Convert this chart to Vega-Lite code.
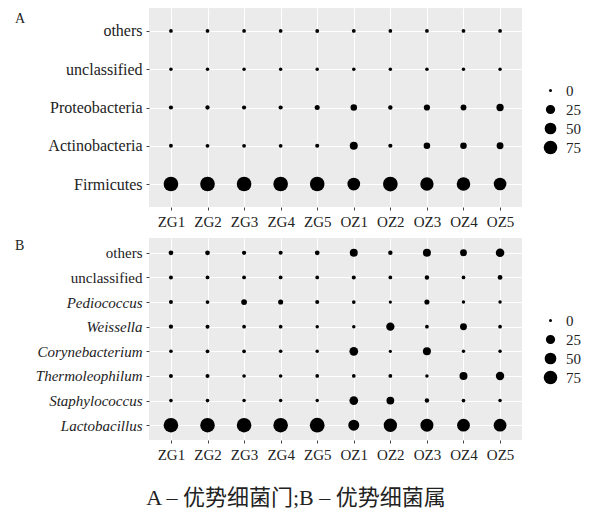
{
  "$schema": "https://vega.github.io/schema/vega-lite/v6.json",
  "padding": {"left": 15, "top": 8, "right": 5, "bottom": 5},
  "background": "white",
  "title": {"text": "A – 优势细菌门;B – 优势细菌属", "orient": "bottom", "anchor": "middle", "font": "Liberation Serif, Noto Sans CJK SC", "fontSize": 22, "fontWeight": "normal", "color": "#222222", "offset": 26, "dx": -2},
  "spacing": 9,
  "resolve": {"scale": {"size": "independent"}, "legend": {"size": "independent"}},
  "vconcat": [
    {
      "width": 373,
      "height": 199,
      "title": {"text": "A", "anchor": "start", "frame": "group", "dx": -134, "dy": 18, "offset": 0, "fontSize": 14, "font": "Liberation Serif", "fontWeight": "normal", "color": "#222222"},
      "data": {"values": [
        {"sample": "ZG1", "taxon": "Firmicutes", "value": 93},
        {"sample": "ZG2", "taxon": "Firmicutes", "value": 93},
        {"sample": "ZG3", "taxon": "Firmicutes", "value": 93},
        {"sample": "ZG4", "taxon": "Firmicutes", "value": 93},
        {"sample": "ZG5", "taxon": "Firmicutes", "value": 93},
        {"sample": "OZ1", "taxon": "Firmicutes", "value": 63},
        {"sample": "OZ2", "taxon": "Firmicutes", "value": 94},
        {"sample": "OZ3", "taxon": "Firmicutes", "value": 72},
        {"sample": "OZ4", "taxon": "Firmicutes", "value": 76},
        {"sample": "OZ5", "taxon": "Firmicutes", "value": 62},
        {"sample": "ZG1", "taxon": "Actinobacteria", "value": 0.8},
        {"sample": "ZG2", "taxon": "Actinobacteria", "value": 0.7},
        {"sample": "ZG3", "taxon": "Actinobacteria", "value": 0.7},
        {"sample": "ZG4", "taxon": "Actinobacteria", "value": 0.7},
        {"sample": "ZG5", "taxon": "Actinobacteria", "value": 1.2},
        {"sample": "OZ1", "taxon": "Actinobacteria", "value": 16},
        {"sample": "OZ2", "taxon": "Actinobacteria", "value": 1.3},
        {"sample": "OZ3", "taxon": "Actinobacteria", "value": 8.5},
        {"sample": "OZ4", "taxon": "Actinobacteria", "value": 8.5},
        {"sample": "OZ5", "taxon": "Actinobacteria", "value": 10},
        {"sample": "ZG1", "taxon": "Proteobacteria", "value": 1.4},
        {"sample": "ZG2", "taxon": "Proteobacteria", "value": 1.6},
        {"sample": "ZG3", "taxon": "Proteobacteria", "value": 1.4},
        {"sample": "ZG4", "taxon": "Proteobacteria", "value": 1.4},
        {"sample": "ZG5", "taxon": "Proteobacteria", "value": 3.2},
        {"sample": "OZ1", "taxon": "Proteobacteria", "value": 8.5},
        {"sample": "OZ2", "taxon": "Proteobacteria", "value": 1.8},
        {"sample": "OZ3", "taxon": "Proteobacteria", "value": 7},
        {"sample": "OZ4", "taxon": "Proteobacteria", "value": 5.8},
        {"sample": "OZ5", "taxon": "Proteobacteria", "value": 12},
        {"sample": "ZG1", "taxon": "unclassified", "value": 0.3},
        {"sample": "ZG2", "taxon": "unclassified", "value": 0.3},
        {"sample": "ZG3", "taxon": "unclassified", "value": 0.3},
        {"sample": "ZG4", "taxon": "unclassified", "value": 0.3},
        {"sample": "ZG5", "taxon": "unclassified", "value": 0.3},
        {"sample": "OZ1", "taxon": "unclassified", "value": 0.4},
        {"sample": "OZ2", "taxon": "unclassified", "value": 0.3},
        {"sample": "OZ3", "taxon": "unclassified", "value": 0.4},
        {"sample": "OZ4", "taxon": "unclassified", "value": 0.3},
        {"sample": "OZ5", "taxon": "unclassified", "value": 0.3},
        {"sample": "ZG1", "taxon": "others", "value": 0.6},
        {"sample": "ZG2", "taxon": "others", "value": 0.6},
        {"sample": "ZG3", "taxon": "others", "value": 0.6},
        {"sample": "ZG4", "taxon": "others", "value": 0.6},
        {"sample": "ZG5", "taxon": "others", "value": 0.8},
        {"sample": "OZ1", "taxon": "others", "value": 0.7},
        {"sample": "OZ2", "taxon": "others", "value": 0.6},
        {"sample": "OZ3", "taxon": "others", "value": 0.7},
        {"sample": "OZ4", "taxon": "others", "value": 0.7},
        {"sample": "OZ5", "taxon": "others", "value": 0.7}
      ]},
      "mark": {"type": "circle", "color": "black", "opacity": 1},
      "encoding": {
        "x": {"field": "sample", "type": "nominal", "scale": {"type": "point", "padding": 0.6, "domain": ["ZG1", "ZG2", "ZG3", "ZG4", "ZG5", "OZ1", "OZ2", "OZ3", "OZ4", "OZ5"]}, "axis": {"labelAngle": 0, "title": null}},
        "y": {"field": "taxon", "type": "nominal", "scale": {"type": "point", "padding": 0.6, "domain": ["others", "unclassified", "Proteobacteria", "Actinobacteria", "Firmicutes"]}, "axis": {"title": null, "labelFontSize": 16}},
        "size": {"field": "value", "type": "quantitative", "scale": {"type": "pow", "exponent": 0.75, "domain": [0, 100], "range": [9, 225]}, "legend": {"values": [0, 25, 50, 75], "title": null}}
      }
    },
    {
      "width": 373,
      "height": 202,
      "title": {"text": "B", "anchor": "start", "frame": "group", "dx": -134, "dy": 15, "offset": 0, "fontSize": 14, "font": "Liberation Serif", "fontWeight": "normal", "color": "#222222"},
      "data": {"values": [
        {"sample": "ZG1", "taxon": "Lactobacillus", "value": 92},
        {"sample": "ZG2", "taxon": "Lactobacillus", "value": 92},
        {"sample": "ZG3", "taxon": "Lactobacillus", "value": 92},
        {"sample": "ZG4", "taxon": "Lactobacillus", "value": 92},
        {"sample": "ZG5", "taxon": "Lactobacillus", "value": 95},
        {"sample": "OZ1", "taxon": "Lactobacillus", "value": 42},
        {"sample": "OZ2", "taxon": "Lactobacillus", "value": 72},
        {"sample": "OZ3", "taxon": "Lactobacillus", "value": 67},
        {"sample": "OZ4", "taxon": "Lactobacillus", "value": 64},
        {"sample": "OZ5", "taxon": "Lactobacillus", "value": 64},
        {"sample": "ZG1", "taxon": "Staphylococcus", "value": 0.5},
        {"sample": "ZG2", "taxon": "Staphylococcus", "value": 0.5},
        {"sample": "ZG3", "taxon": "Staphylococcus", "value": 0.4},
        {"sample": "ZG4", "taxon": "Staphylococcus", "value": 0.4},
        {"sample": "ZG5", "taxon": "Staphylococcus", "value": 0.3},
        {"sample": "OZ1", "taxon": "Staphylococcus", "value": 21},
        {"sample": "OZ2", "taxon": "Staphylococcus", "value": 15},
        {"sample": "OZ3", "taxon": "Staphylococcus", "value": 1.8},
        {"sample": "OZ4", "taxon": "Staphylococcus", "value": 0.6},
        {"sample": "OZ5", "taxon": "Staphylococcus", "value": 0.4},
        {"sample": "ZG1", "taxon": "Thermoleophilum", "value": 1},
        {"sample": "ZG2", "taxon": "Thermoleophilum", "value": 1},
        {"sample": "ZG3", "taxon": "Thermoleophilum", "value": 0.5},
        {"sample": "ZG4", "taxon": "Thermoleophilum", "value": 0.5},
        {"sample": "ZG5", "taxon": "Thermoleophilum", "value": 0.6},
        {"sample": "OZ1", "taxon": "Thermoleophilum", "value": 0.6},
        {"sample": "OZ2", "taxon": "Thermoleophilum", "value": 0.8},
        {"sample": "OZ3", "taxon": "Thermoleophilum", "value": 0.3},
        {"sample": "OZ4", "taxon": "Thermoleophilum", "value": 16},
        {"sample": "OZ5", "taxon": "Thermoleophilum", "value": 19},
        {"sample": "ZG1", "taxon": "Corynebacterium", "value": 0.5},
        {"sample": "ZG2", "taxon": "Corynebacterium", "value": 0.6},
        {"sample": "ZG3", "taxon": "Corynebacterium", "value": 0.6},
        {"sample": "ZG4", "taxon": "Corynebacterium", "value": 0.5},
        {"sample": "ZG5", "taxon": "Corynebacterium", "value": 0.3},
        {"sample": "OZ1", "taxon": "Corynebacterium", "value": 21},
        {"sample": "OZ2", "taxon": "Corynebacterium", "value": 0.1},
        {"sample": "OZ3", "taxon": "Corynebacterium", "value": 16},
        {"sample": "OZ4", "taxon": "Corynebacterium", "value": 0.3},
        {"sample": "OZ5", "taxon": "Corynebacterium", "value": 0.3},
        {"sample": "ZG1", "taxon": "Weissella", "value": 1.5},
        {"sample": "ZG2", "taxon": "Weissella", "value": 1},
        {"sample": "ZG3", "taxon": "Weissella", "value": 0.6},
        {"sample": "ZG4", "taxon": "Weissella", "value": 0.6},
        {"sample": "ZG5", "taxon": "Weissella", "value": 0.3},
        {"sample": "OZ1", "taxon": "Weissella", "value": 0.3},
        {"sample": "OZ2", "taxon": "Weissella", "value": 18},
        {"sample": "OZ3", "taxon": "Weissella", "value": 0.6},
        {"sample": "OZ4", "taxon": "Weissella", "value": 10},
        {"sample": "OZ5", "taxon": "Weissella", "value": 0.6},
        {"sample": "ZG1", "taxon": "Pediococcus", "value": 1},
        {"sample": "ZG2", "taxon": "Pediococcus", "value": 0.6},
        {"sample": "ZG3", "taxon": "Pediococcus", "value": 5.5},
        {"sample": "ZG4", "taxon": "Pediococcus", "value": 3.4},
        {"sample": "ZG5", "taxon": "Pediococcus", "value": 1.1},
        {"sample": "OZ1", "taxon": "Pediococcus", "value": 0.6},
        {"sample": "OZ2", "taxon": "Pediococcus", "value": 0.1},
        {"sample": "OZ3", "taxon": "Pediococcus", "value": 3.4},
        {"sample": "OZ4", "taxon": "Pediococcus", "value": 0.3},
        {"sample": "OZ5", "taxon": "Pediococcus", "value": 0.3},
        {"sample": "ZG1", "taxon": "unclassified", "value": 1},
        {"sample": "ZG2", "taxon": "unclassified", "value": 0.8},
        {"sample": "ZG3", "taxon": "unclassified", "value": 0.8},
        {"sample": "ZG4", "taxon": "unclassified", "value": 0.8},
        {"sample": "ZG5", "taxon": "unclassified", "value": 0.6},
        {"sample": "OZ1", "taxon": "unclassified", "value": 1.1},
        {"sample": "OZ2", "taxon": "unclassified", "value": 0.6},
        {"sample": "OZ3", "taxon": "unclassified", "value": 1.8},
        {"sample": "OZ4", "taxon": "unclassified", "value": 0.6},
        {"sample": "OZ5", "taxon": "unclassified", "value": 2.5},
        {"sample": "ZG1", "taxon": "others", "value": 2.5},
        {"sample": "ZG2", "taxon": "others", "value": 2.5},
        {"sample": "ZG3", "taxon": "others", "value": 1.5},
        {"sample": "ZG4", "taxon": "others", "value": 1.1},
        {"sample": "ZG5", "taxon": "others", "value": 2.5},
        {"sample": "OZ1", "taxon": "others", "value": 16},
        {"sample": "OZ2", "taxon": "others", "value": 1.8},
        {"sample": "OZ3", "taxon": "others", "value": 16},
        {"sample": "OZ4", "taxon": "others", "value": 10},
        {"sample": "OZ5", "taxon": "others", "value": 20}
      ]},
      "mark": {"type": "circle", "color": "black", "opacity": 1},
      "encoding": {
        "x": {"field": "sample", "type": "nominal", "scale": {"type": "point", "padding": 0.6, "domain": ["ZG1", "ZG2", "ZG3", "ZG4", "ZG5", "OZ1", "OZ2", "OZ3", "OZ4", "OZ5"]}, "axis": {"labelAngle": 0, "title": null}},
        "y": {"field": "taxon", "type": "nominal", "scale": {"type": "point", "padding": 0.6, "domain": ["others", "unclassified", "Pediococcus", "Weissella", "Corynebacterium", "Thermoleophilum", "Staphylococcus", "Lactobacillus"]}, "axis": {"title": null, "labelFontStyle": {"condition": {"test": "datum.value == 'others' || datum.value == 'unclassified'", "value": "normal"}, "value": "italic"}}},
        "size": {"field": "value", "type": "quantitative", "scale": {"type": "pow", "exponent": 0.75, "domain": [0, 100], "range": [9, 225]}, "legend": {"values": [0, 25, 50, 75], "title": null}}
      }
    }
  ],
  "config": {
    "view": {"fill": "#EBEBEB", "stroke": null},
    "axis": {"grid": true, "gridColor": "#FFFFFF", "gridWidth": 1.1, "domain": false, "tickColor": "#444444", "tickSize": 3, "tickWidth": 1, "labelFont": "Liberation Serif", "labelFontSize": 15, "labelColor": "#222222", "labelPadding": 4},
    "legend": {"orient": "none", "legendX": 394, "legendY": 75, "padding": 0, "labelFont": "Liberation Serif", "labelFontSize": 15, "labelColor": "#222222", "labelOffset": 8, "rowPadding": 3, "symbolFillColor": "#000000", "symbolStrokeWidth": 0, "symbolOpacity": 1, "symbolType": "circle"}
  }
}
